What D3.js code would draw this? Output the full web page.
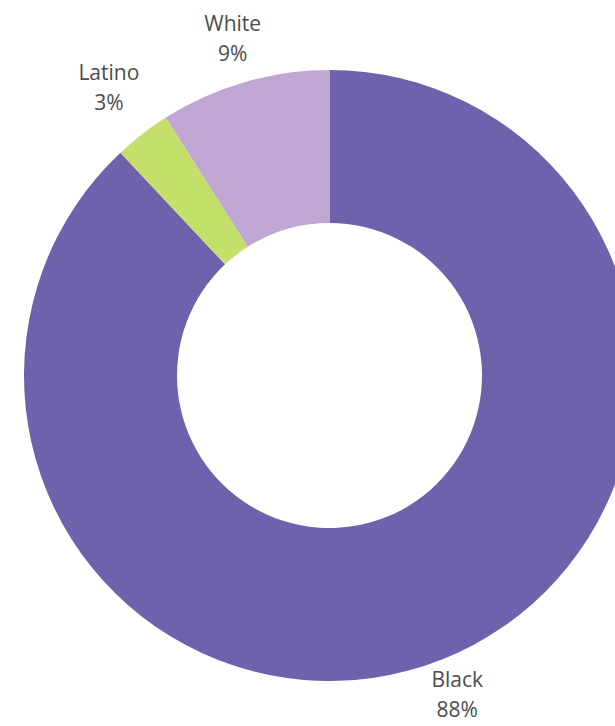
<!DOCTYPE html>
<html>
<head>
<meta charset="utf-8">
<script src="https://cdn.jsdelivr.net/npm/d3@7"></script>
<style>
html,body{margin:0;padding:0;background:#fff;overflow:hidden;}
</style>
</head>
<body>
<svg id="chart" width="615" height="726"></svg>
<script>
const categories = ["Black", "Latino", "White"];
const values = [88, 3, 9];
const labels = ["88%", "3%", "9%"];
const colors = ["#6d62ab", "#c5df6b", "#bfa6d3"];

const svg = d3.select("#chart");
const cx = 329.5, cy = 375.5;
const outerR = 305.5, innerR = 152.5;

const data = categories.map((c, i) => ({cat: c, value: values[i], label: labels[i], color: colors[i]}));
const pie = d3.pie().sort(null).value(d => d.value);
const arcs = pie(data);
const arc = d3.arc().innerRadius(innerR).outerRadius(outerR);
// small slices get their labels pushed a little further out
const labelPos = d => {
  const r = d.data.value < 5 ? 360 : 347;
  return d3.arc().innerRadius(r).outerRadius(r).centroid(d);
};

const g = svg.append("g").attr("transform", `translate(${cx},${cy})`);
g.selectAll("path").data(arcs).enter().append("path")
  .attr("d", arc)
  .attr("fill", d => d.data.color);

const t = g.selectAll("text.lbl").data(arcs).enter().append("text")
  .attr("class", "lbl")
  .attr("transform", d => `translate(${labelPos(d)})`)
  .attr("text-anchor", "middle")
  .attr("font-family", "'Open Sans', sans-serif")
  .attr("font-size", 21)
  .attr("fill", "#4d4d4d");
t.append("tspan").attr("x", 0).attr("y", -11).text(d => d.data.cat);
t.append("tspan").attr("x", 0).attr("y", 19).text(d => d.data.label);
</script>
</body>
</html>
